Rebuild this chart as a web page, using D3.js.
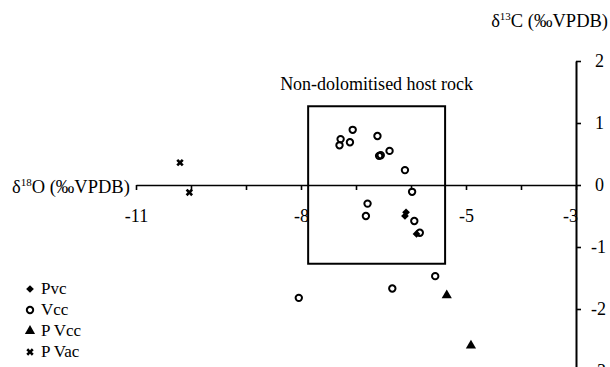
<!DOCTYPE html>
<html>
<head>
<meta charset="utf-8">
<script src="https://d3js.org/d3.v7.min.js"></script>
<style>
  body { margin: 0; background: #fff; }
  svg { font-family: "Liberation Serif", "Times New Roman", serif; }
</style>
</head>
<body>
<svg id="chart" width="610" height="367"></svg>
<script>
  // d18O (x), d13C (y) per sample group
  const pvcX = [-6.09, -6.11, -5.90];
  const pvcY = [-0.44, -0.50, -0.79];
  const vccX = [-7.30, -7.28, -7.11, -7.06, -6.61, -6.58, -6.55, -6.39, -6.11, -5.98,
                -6.79, -6.82, -5.94, -5.84, -8.04, -6.34, -5.56];
  const vccY = [0.64, 0.74, 0.69, 0.89, 0.79, 0.47, 0.48, 0.55, 0.24, -0.11,
                -0.30, -0.50, -0.58, -0.77, -1.82, -1.67, -1.47];
  const pvccX = [-5.35, -4.91];
  const pvccY = [-1.78, -2.59];
  const pvacX = [-10.2, -10.03];
  const pvacY = [0.36, -0.12];

  const xTicks = [-11, -10, -9, -8, -7, -6, -5, -4, -3];
  const xLabels = [-11, -8, -5, -3];
  const yTicks = [2, 1, 0, -1, -2, -3];
  const hostBox = { x0: -7.87, x1: -5.38, y0: -1.27, y1: 1.27 };
  const groups = ["Pvc", "Vcc", "PVcc", "PVac"];

  const svg = d3.select("#chart");
  const x = d3.scaleLinear().domain([-11, -3]).range([136, 576]);
  const y = d3.scaleLinear().domain([-3, 2]).range([371, 61]);
  const serif = "'Liberation Serif', serif";

  // x axis through zero
  const xAxis = svg.append("g")
    .attr("transform", `translate(0,${y(0)})`)
    .call(d3.axisBottom(x).tickValues(xTicks).tickSize(5).tickSizeOuter(0).tickPadding(19)
      .tickFormat(d => xLabels.includes(d) ? String(d) : ""));
  xAxis.select(".domain").attr("stroke-width", 1.6);
  xAxis.selectAll(".tick line").attr("stroke-width", 1.6);
  xAxis.selectAll("text").style("font-size", "18px").style("font-family", serif).attr("fill", "#000")
    .attr("dx", d => d === -3 ? -6 : 0);

  // y axis at x = -3
  const yAxis = svg.append("g")
    .attr("transform", `translate(${x(-3)},0)`)
    .call(d3.axisRight(y).tickValues(yTicks).tickSize(5).tickSizeOuter(0).tickPadding(14)
      .tickFormat(d => String(d)));
  yAxis.select(".domain").attr("stroke-width", 2);
  yAxis.selectAll(".tick line").attr("stroke-width", 1.6);
  yAxis.selectAll("text").style("font-size", "18px").style("font-family", serif).attr("fill", "#000")
    .attr("dx", d => d < 0 ? -4 : 0);

  // axis titles
  const t1 = svg.append("text").attr("x", 608).attr("y", 27).attr("font-size", 18.5)
    .attr("text-anchor", "end");
  t1.append("tspan").text("δ");
  t1.append("tspan").attr("font-size", 11).attr("dy", -7).text("13");
  t1.append("tspan").attr("dy", 7).text("C (‰VPDB)");

  const t2 = svg.append("text").attr("x", 12).attr("y", 193).attr("font-size", 18.5);
  t2.append("tspan").text("δ");
  t2.append("tspan").attr("font-size", 11).attr("dy", -7).text("18");
  t2.append("tspan").attr("dy", 7).text("O (‰VPDB)");

  // host rock box
  svg.append("rect")
    .attr("x", x(hostBox.x0)).attr("y", y(hostBox.y1))
    .attr("width", x(hostBox.x1) - x(hostBox.x0))
    .attr("height", y(hostBox.y0) - y(hostBox.y1))
    .attr("fill", "none").attr("stroke", "#000").attr("stroke-width", 2);
  svg.append("text")
    .attr("x", (x(hostBox.x0) + x(hostBox.x1)) / 2).attr("y", 90)
    .attr("text-anchor", "middle").attr("font-size", 18)
    .text("Non-dolomitised host rock");

  const symbols = {
    Pvc: { gen: d3.symbol().type(d3.symbolSquare).size(30), fill: "#000", stroke: "none", rot: 45 },
    Vcc: { gen: d3.symbol().type(d3.symbolCircle).size(32), fill: "none", stroke: "#000", rot: 0 },
    PVcc: { gen: d3.symbol().type(d3.symbolTriangle).size(45), fill: "#000", stroke: "none", rot: 0 },
    PVac: { gen: d3.symbol().type(d3.symbolCross).size(34), fill: "#000", stroke: "none", rot: 45 }
  };

  const data = [
    ...pvcX.map((v, i) => ({ g: "Pvc", x: v, y: pvcY[i] })),
    ...vccX.map((v, i) => ({ g: "Vcc", x: v, y: vccY[i] })),
    ...pvccX.map((v, i) => ({ g: "PVcc", x: v, y: pvccY[i] })),
    ...pvacX.map((v, i) => ({ g: "PVac", x: v, y: pvacY[i] }))
  ];

  svg.append("g").selectAll("path")
    .data(data)
    .join("path")
    .attr("d", d => symbols[d.g].gen())
    .attr("transform", d => `translate(${x(d.x)},${y(d.y)}) rotate(${symbols[d.g].rot})`)
    .attr("fill", d => symbols[d.g].fill)
    .attr("stroke", d => symbols[d.g].stroke)
    .attr("stroke-width", 2);

  // legend
  const legend = svg.append("g").selectAll("g")
    .data(groups)
    .join("g")
    .attr("transform", (d, i) => `translate(30,${289 + i * 21})`);
  legend.append("path")
    .attr("d", d => symbols[d].gen())
    .attr("transform", d => `rotate(${symbols[d].rot})`)
    .attr("fill", d => symbols[d].fill)
    .attr("stroke", d => symbols[d].stroke)
    .attr("stroke-width", 2);
  legend.append("text")
    .attr("x", 11).attr("y", 5)
    .attr("font-size", 17)
    .text(d => d === "PVcc" ? "P Vcc" : d === "PVac" ? "P Vac" : d);
</script>
</body>
</html>
